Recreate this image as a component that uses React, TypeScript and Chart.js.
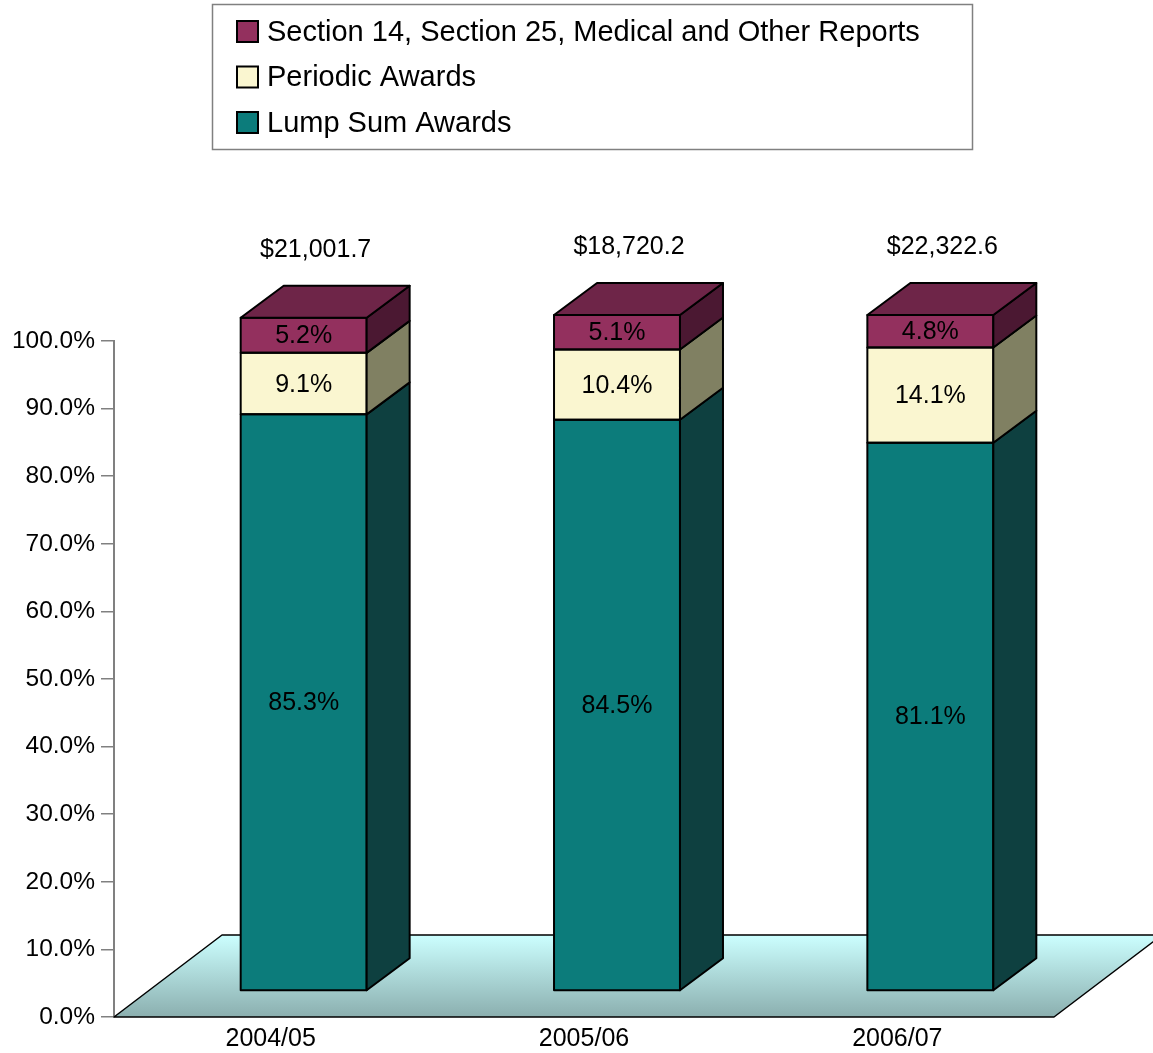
import React, { useEffect, useRef } from 'react';
import { Chart, registerables } from 'chart.js';

Chart.register(...registerables);

const categories = ['2004/05', '2005/06', '2006/07'];
const lumpSumAwards = [85.3, 84.5, 81.1];
const periodicAwards = [9.1, 10.4, 14.1];
const sectionReports = [5.2, 5.1, 4.8];
const totalLabels = ['$21,001.7', '$18,720.2', '$22,322.6'];
const seriesNames = [
  'Lump Sum Awards',
  'Periodic Awards',
  'Section 14, Section 25, Medical and Other Reports',
];

const FONT = '"Liberation Sans", Arial, Helvetica, sans-serif';
const FLOOR_DX = 108;
const FLOOR_DY = 82;
const BAR_OFF_X = 33;
const BAR_OFF_Y = 26;
const BAR_DX = 43;
const BAR_DY = 32;

const frontColors = ['#0C7C7B', '#FAF6D0', '#93305E'];
const sideColors = ['#0E4040', '#808062', '#4B1832'];
const topColors = ['#0A6060', '#E0DCB0', '#6E2548'];

const threeDPlugin = {
  id: 'threeD',
  beforeDatasetsDraw(chart: any) {
    const { ctx, chartArea } = chart;
    const { left, right, bottom } = chartArea;
    ctx.save();
    const g = ctx.createLinearGradient(0, bottom - FLOOR_DY, 0, bottom);
    g.addColorStop(0, '#CCFFFF');
    g.addColorStop(1, '#8BAFAF');
    ctx.beginPath();
    ctx.moveTo(left, bottom);
    ctx.lineTo(right, bottom);
    ctx.lineTo(right + FLOOR_DX, bottom - FLOOR_DY);
    ctx.lineTo(left + FLOOR_DX, bottom - FLOOR_DY);
    ctx.closePath();
    ctx.fillStyle = g;
    ctx.fill();
    ctx.lineWidth = 1.5;
    ctx.strokeStyle = '#000';
    ctx.lineJoin = 'round';
    ctx.stroke();
    ctx.restore();
  },
  beforeDatasetDraw(chart: any) {
    chart.ctx.save();
    chart.ctx.translate(BAR_OFF_X, -BAR_OFF_Y);
  },
  afterDatasetDraw(chart: any) {
    chart.ctx.restore();
  },
  afterDatasetsDraw(chart: any) {
    const { ctx } = chart;
    const nds = chart.data.datasets.length;
    ctx.save();
    ctx.lineWidth = 2;
    ctx.strokeStyle = '#000';
    ctx.lineJoin = 'round';
    const tops: number[] = [];
    const centers: number[] = [];
    for (let di = 0; di < nds; di++) {
      const meta = chart.getDatasetMeta(di);
      meta.data.forEach((el: any, i: number) => {
        const { x, y, base, width } = el.getProps(['x', 'y', 'base', 'width'], true);
        const l = x - width / 2 + BAR_OFF_X;
        const r = x + width / 2 + BAR_OFF_X;
        const t = y - BAR_OFF_Y;
        const b = base - BAR_OFF_Y;
        // front outline
        ctx.strokeRect(l, t, r - l, b - t);
        // side face
        ctx.beginPath();
        ctx.moveTo(r, b);
        ctx.lineTo(r + BAR_DX, b - BAR_DY);
        ctx.lineTo(r + BAR_DX, t - BAR_DY);
        ctx.lineTo(r, t);
        ctx.closePath();
        ctx.fillStyle = sideColors[di];
        ctx.fill();
        ctx.stroke();
        if (di === nds - 1) {
          ctx.beginPath();
          ctx.moveTo(l, t);
          ctx.lineTo(l + BAR_DX, t - BAR_DY);
          ctx.lineTo(r + BAR_DX, t - BAR_DY);
          ctx.lineTo(r, t);
          ctx.closePath();
          ctx.fillStyle = topColors[di];
          ctx.fill();
          ctx.stroke();
          tops[i] = t;
          centers[i] = x + BAR_OFF_X;
        }
      });
    }
    // value labels
    ctx.fillStyle = '#000';
    ctx.font = `25px ${FONT}`;
    ctx.textAlign = 'center';
    ctx.textBaseline = 'middle';
    for (let di = 0; di < nds; di++) {
      const meta = chart.getDatasetMeta(di);
      const vals = chart.data.datasets[di].data;
      meta.data.forEach((el: any, i: number) => {
        const { x, y, base } = el.getProps(['x', 'y', 'base'], true);
        ctx.fillText(`${Number(vals[i]).toFixed(1)}%`, x + BAR_OFF_X, (y + base) / 2 - BAR_OFF_Y + 1);
      });
    }
    // totals
    totalLabels.forEach((s, i) => {
      ctx.fillText(s, centers[i] + 12, tops[i] - BAR_DY - 36);
    });
    ctx.restore();
  },
  afterDraw(chart: any) {
    const { ctx } = chart;
    ctx.save();
    ctx.strokeStyle = '#808080';
    ctx.lineWidth = 1.5;
    ctx.strokeRect(212.5, 4.5, 760, 145);
    const ds = chart.data.datasets;
    ctx.font = `29px ${FONT}`;
    ctx.textAlign = 'left';
    ctx.textBaseline = 'middle';
    for (let k = 0; k < ds.length; k++) {
      const di = ds.length - 1 - k;
      const cy = 31.5 + k * 45.5;
      ctx.fillStyle = ds[di].backgroundColor;
      ctx.fillRect(237, cy - 10.5, 21, 21);
      ctx.lineWidth = 2;
      ctx.strokeStyle = '#000';
      ctx.strokeRect(237, cy - 10.5, 21, 21);
      ctx.fillStyle = '#000';
      ctx.fillText(ds[di].label, 267, cy + 1);
    }
    ctx.restore();
  },
};

export default function App() {
  const ref = useRef<HTMLCanvasElement>(null);
  useEffect(() => {
    if (!ref.current) return;
    const data = [lumpSumAwards, periodicAwards, sectionReports];
    const chart = new Chart(ref.current, {
      type: 'bar',
      data: {
        labels: categories,
        datasets: data.map((d, i) => ({
          label: seriesNames[i],
          data: d,
          backgroundColor: frontColors[i],
          borderWidth: 0,
          categoryPercentage: 1,
          barPercentage: 0.402,
          clip: false,
        })) as any,
      },
      options: {
        responsive: false,
        animation: false,
        layout: { padding: { top: 341, right: 99, bottom: 0, left: 0 } },
        plugins: {
          legend: { display: false },
          tooltip: { enabled: false },
          title: { display: false },
        },
        scales: {
          x: {
            stacked: true,
            grid: { display: false, drawTicks: false },
            border: { display: false },
            ticks: { font: { size: 25, family: FONT }, color: '#000', padding: 7 },
            afterFit(s: any) { s.height = 36; },
          },
          y: {
            stacked: true,
            min: 0,
            max: 100,
            ticks: {
              stepSize: 10,
              font: { size: 24.5, family: FONT },
              color: '#000',
              padding: 6,
              callback: (v: any) => `${Number(v).toFixed(1)}%`,
            },
            grid: { drawOnChartArea: false, drawTicks: true, tickLength: 13, color: '#808080', lineWidth: 1.5 },
            border: { display: true, color: '#808080', width: 2 },
            afterFit(s: any) { s.width = 114; },
          },
        },
      },
      plugins: [threeDPlugin],
    });
    return () => chart.destroy();
  }, []);
  return (
    <div style={{ position: 'absolute', left: 0, top: 0, width: 1153, height: 1053, background: '#fff' }}>
      <canvas ref={ref} width={1153} height={1053} />
    </div>
  );
}
